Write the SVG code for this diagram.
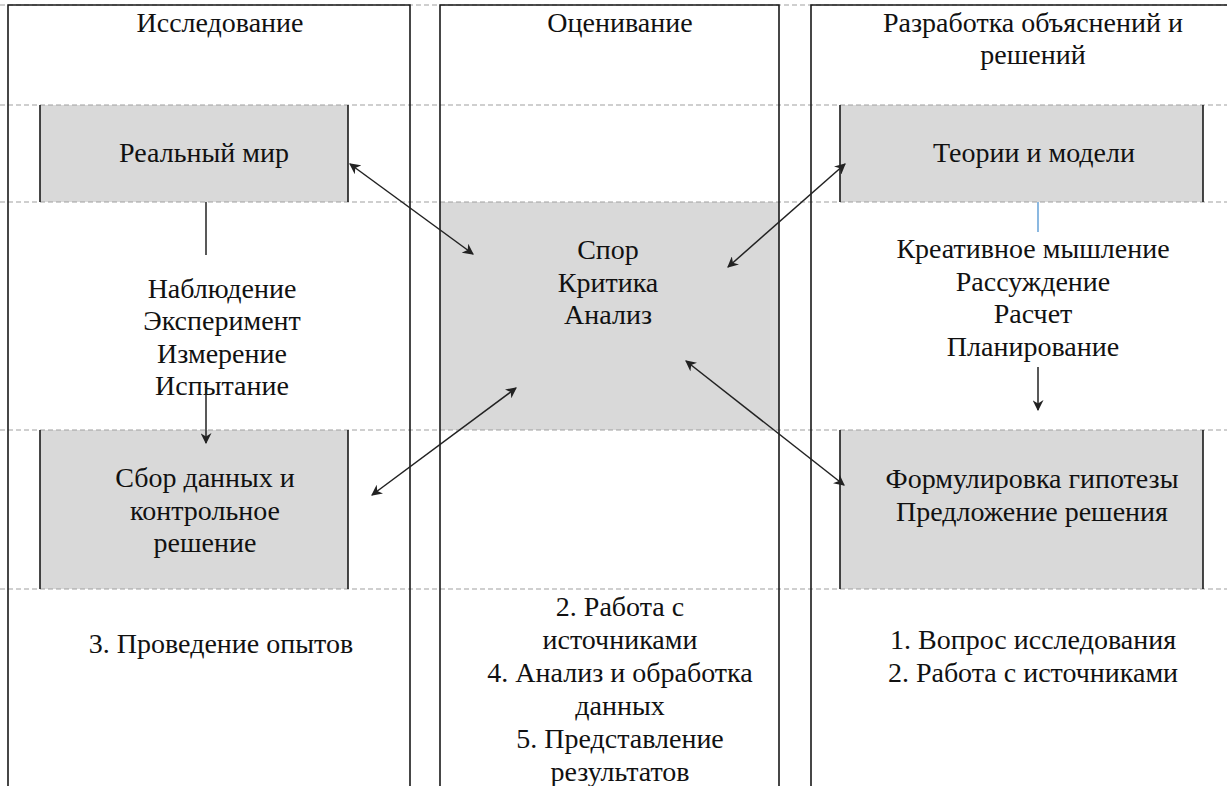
<svg xmlns="http://www.w3.org/2000/svg" width="1227" height="786" viewBox="0 0 1227 786">
<style>
.t{font-family:'Liberation Serif','DejaVu Serif',serif;font-size:28px;fill:#111;text-anchor:middle}
.dash{stroke:#a0a0a0;stroke-width:1.2;stroke-dasharray:5 3;fill:none}
.col{stroke:#1a1a1a;stroke-width:1.6;fill:none}
.gray{fill:#d9d9d9}
.side{stroke:#1a1a1a;stroke-width:1.6}
.conn{stroke:#222;stroke-width:1.5;fill:none}
</style>
<defs>
<marker id="ah" viewBox="0 0 10 10" refX="9" refY="5" markerWidth="11" markerHeight="11" markerUnits="userSpaceOnUse" orient="auto-start-reverse">
<path d="M0,0 L10,5 L0,10 L3,5 z" fill="#222"/>
</marker>
</defs>
<rect width="1227" height="786" fill="#fff"/>
<g id="fills">
<rect class="gray" x="40" y="105" width="308" height="97"/>
<rect class="gray" x="840" y="105" width="363" height="97"/>
<rect class="gray" x="440" y="202" width="339" height="228"/>
<rect class="gray" x="40" y="430" width="308" height="159"/>
<rect class="gray" x="840" y="430" width="363" height="159"/>
</g>
<g id="gridlines">
<line class="dash" x1="0" y1="5" x2="1227" y2="5"/>
<line class="dash" x1="0" y1="105" x2="1227" y2="105"/>
<line class="dash" x1="0" y1="202" x2="1227" y2="202"/>
<line class="dash" x1="0" y1="430" x2="1227" y2="430"/>
<line class="dash" x1="0" y1="589" x2="1227" y2="589"/>
</g>
<g id="columns">
<path class="col" d="M8,786 V5 H410 V786"/>
<path class="col" d="M440,786 V5 H779 V786"/>
<path class="col" d="M811,786 V5 H1227"/>
</g>
<g id="col-research">
<text class="t" x="220" y="32">Исследование</text>
</g>
<g id="col-evaluation">
<text class="t" x="620" y="32">Оценивание</text>
</g>
<g id="col-development">
<text class="t" x="1033" y="32">Разработка объяснений и</text>
<text class="t" x="1033" y="64">решений</text>
</g>
<g id="real-world">
<line class="side" x1="40" y1="105" x2="40" y2="202"/>
<line class="side" x1="348" y1="105" x2="348" y2="202"/>
<text class="t" x="204" y="162">Реальный мир</text>
</g>
<g id="theories">
<line class="side" x1="840" y1="105" x2="840" y2="202"/>
<line class="side" x1="1203" y1="105" x2="1203" y2="202"/>
<text class="t" x="1034" y="162">Теории и модели</text>
</g>
<g id="methods">
<text class="t" x="222" y="298">Наблюдение</text>
<text class="t" x="222" y="330">Эксперимент</text>
<text class="t" x="222" y="363">Измерение</text>
<text class="t" x="222" y="395">Испытание</text>
</g>
<g id="argument">
<text class="t" x="608" y="259">Спор</text>
<text class="t" x="608" y="292">Критика</text>
<text class="t" x="608" y="324">Анализ</text>
</g>
<g id="thinking">
<text class="t" x="1033" y="258">Креативное мышление</text>
<text class="t" x="1033" y="291">Рассуждение</text>
<text class="t" x="1033" y="323">Расчет</text>
<text class="t" x="1033" y="356">Планирование</text>
</g>
<g id="data-collection">
<line class="side" x1="40" y1="430" x2="40" y2="589"/>
<line class="side" x1="348" y1="430" x2="348" y2="589"/>
<text class="t" x="205" y="487">Сбор данных и</text>
<text class="t" x="205" y="520">контрольное</text>
<text class="t" x="205" y="552">решение</text>
</g>
<g id="hypothesis">
<line class="side" x1="840" y1="430" x2="840" y2="589"/>
<line class="side" x1="1203" y1="430" x2="1203" y2="589"/>
<text class="t" x="1032" y="488">Формулировка гипотезы</text>
<text class="t" x="1032" y="521">Предложение решения</text>
</g>
<g id="step-left">
<text class="t" x="221" y="653">3. Проведение опытов</text>
</g>
<g id="step-middle">
<text class="t" x="620" y="616">2. Работа с</text>
<text class="t" x="620" y="649">источниками</text>
<text class="t" x="620" y="682">4. Анализ и обработка</text>
<text class="t" x="620" y="715">данных</text>
<text class="t" x="620" y="748">5. Представление</text>
<text class="t" x="620" y="781">результатов</text>
</g>
<g id="step-right">
<text class="t" x="1033" y="649">1. Вопрос исследования</text>
<text class="t" x="1033" y="682">2. Работа с источниками</text>
</g>
<g id="connectors">
<line class="conn" x1="206" y1="202" x2="206" y2="255"/>
<line class="conn" x1="206" y1="388" x2="206" y2="443" marker-end="url(#ah)"/>
<line x1="1038" y1="202" x2="1038" y2="232" stroke="#5b9bd5" stroke-width="1.4"/>
<line class="conn" x1="1038" y1="367" x2="1038" y2="410" marker-end="url(#ah)"/>
<line class="conn" x1="350" y1="164" x2="473" y2="254" marker-start="url(#ah)" marker-end="url(#ah)"/>
<line class="conn" x1="728" y1="267" x2="845" y2="164" marker-start="url(#ah)" marker-end="url(#ah)"/>
<line class="conn" x1="372" y1="495" x2="516" y2="388" marker-start="url(#ah)" marker-end="url(#ah)"/>
<line class="conn" x1="686" y1="361" x2="844" y2="485" marker-start="url(#ah)" marker-end="url(#ah)"/>
</g>
</svg>
